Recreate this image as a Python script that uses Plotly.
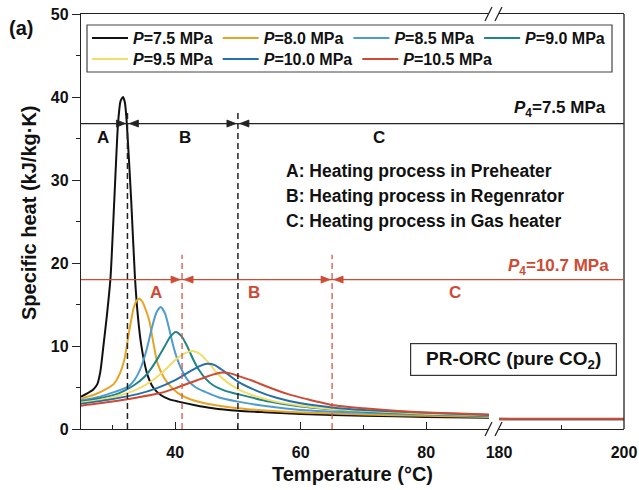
import plotly.graph_objects as go

FONT = "Liberation Sans, Arial, Helvetica, sans-serif"

# ---------------- data ----------------
pressures = ["7.5", "8.0", "8.5", "9.0", "9.5", "10.0", "10.5"]
colors = ["#111111", "#E8A323", "#4E9BD2", "#1F8588", "#F4DC6A", "#2670A9", "#CF4A33"]

T7_5 = [25, 26, 27, 27.6, 28.1, 28.6, 29.1, 29.7, 30.3, 30.9, 31.3, 31.7, 32.0, 32.3, 33.0, 33.6,
        34.1, 34.6, 35.1, 35.6, 36.5, 37.7, 39.0, 40.5, 43, 46, 50, 55, 60, 70, 80, 90]
C7_5 = [3.9, 4.3, 4.8, 5.4, 7.0, 10.2, 13.5, 18.2, 27.5, 36.8, 39.5, 40.0, 39.3, 36.8, 27.5, 18.2,
        13.3, 10.1, 8.0, 6.5, 5.0, 4.1, 3.6, 3.3, 2.9, 2.5, 2.2, 2.0, 1.8, 1.6, 1.45, 1.35]

T8_0 = [25, 27, 29, 30.3, 31.2, 31.9, 32.7, 33.4, 33.9, 34.3, 34.8, 35.3, 35.9, 36.5, 37.2, 38.2,
        39.3, 40.5, 42, 44.7, 47, 50, 55, 60, 70, 80, 90]
C8_0 = [3.7, 4.1, 4.8, 5.5, 6.7, 8.3, 11.9, 14.6, 15.5, 15.7, 15.3, 14.4, 13.0, 10.5, 7.9, 6.2,
        5.1, 4.3, 3.7, 3.1, 2.8, 2.5, 2.2, 2.0, 1.75, 1.6, 1.45]

T8_5 = [25, 28, 30.5, 32.5, 33.6, 34.6, 35.5, 36.2, 37.0, 37.7, 38.4, 39.1, 39.7, 40.4, 41.2, 42,
        43.3, 44.7, 47, 50, 55, 60, 70, 80, 90]
C8_5 = [3.45, 3.9, 4.5, 5.1, 6.0, 7.5, 9.7, 11.9, 14.0, 14.7, 13.9, 11.9, 10.0, 8.3, 6.9, 5.9,
        5.0, 4.5, 3.8, 3.3, 2.7, 2.3, 1.95, 1.75, 1.55]

T9_0 = [25, 28, 31, 33.5, 35, 36.2, 37.3, 38.3, 39.2, 40.1, 41.0, 41.9, 42.8, 43.8, 44.8, 46,
        48, 50, 55, 60, 70, 80, 90]
C9_0 = [3.3, 3.7, 4.3, 5.3, 6.2, 7.3, 8.6, 9.9, 11.1, 11.7, 11.2, 10.0, 8.5, 7.1, 6.1, 5.3,
        4.6, 4.2, 3.3, 2.7, 2.1, 1.8, 1.6]

T9_5 = [25, 28, 31, 34, 36.5, 38.5, 40, 41.5, 42.8, 44, 45.3, 46.5, 48, 50, 53, 56, 60, 65, 70, 80, 90]
C9_5 = [3.2, 3.5, 4.0, 4.8, 5.9, 7.2, 8.3, 9.1, 9.4, 9.0, 8.0, 6.9, 5.8, 4.8, 3.9, 3.3, 2.8, 2.4,
        2.2, 1.85, 1.65]

T10_0 = [25, 30, 34, 37, 40, 42.5, 44, 45.1, 46.3, 47.7, 50, 53, 56, 60, 65, 70, 80, 90]
C10_0 = [3.05, 3.6, 4.2, 4.9, 5.9, 7.0, 7.6, 7.85, 7.7, 7.0, 5.7, 4.6, 3.8, 3.1, 2.6, 2.3, 1.95, 1.7]

T10_5 = [25, 30, 34, 37.5, 40, 42.5, 45, 46.5, 47.6, 48.8, 50, 52, 55, 58, 61, 65, 70, 75, 80, 90]
C10_5 = [2.8, 3.3, 3.8, 4.3, 4.9, 5.6, 6.3, 6.65, 6.8, 6.7, 6.4, 5.9, 5.0, 4.2, 3.6, 2.9, 2.5,
         2.2, 2.0, 1.75]

# high-temperature segment (180-200 C)
T_high = [180, 200]
C_high = [[1.17, 1.16], [1.18, 1.17], [1.19, 1.18], [1.20, 1.19],
          [1.21, 1.20], [1.22, 1.21], [1.23, 1.22]]

low_T = [T7_5, T8_0, T8_5, T9_0, T9_5, T10_0, T10_5]
low_C = [C7_5, C8_0, C8_5, C9_0, C9_5, C10_0, C10_5]

# process boundaries
P4_low_cp, P4_high_cp = 36.8, 18.0
black_bounds = [32.4, 50.0]
red_bounds = [41.1, 65.0]
black_labels = [("A", 28.5), ("B", 41.5), ("C", 72.5)]
red_labels = [("A", 37.0), ("B", 52.6), ("C", 84.6)]

# ---------------- layout geometry helpers ----------------
W, H = 639, 490
ML, MR, MT, MB = 81, 15, 14, 61
PW, PH = W - ML - MR, H - MT - MB


def px(xp):
    return (xp - ML) / PW


def py(yp):
    return (H - MB - yp) / PH


d1_end = px(489)
d2_start = px(499)

fig = go.Figure()
for i, p in enumerate(pressures):
    leg = "legend" if i < 4 else "legend2"
    fig.add_trace(go.Scatter(
        x=low_T[i], y=low_C[i], mode="lines",
        line=dict(color=colors[i], width=2, shape="spline", smoothing=0.6),
        name=f"<i>P</i>=%s MPa" % p, legend=leg, legendgroup=p,
        xaxis="x", yaxis="y"))
for i, p in enumerate(pressures):
    fig.add_trace(go.Scatter(
        x=T_high, y=C_high[i], mode="lines",
        line=dict(color=colors[i], width=2),
        showlegend=False, legendgroup=p, xaxis="x2", yaxis="y"))

axis_col = "#222222"
tickfont = dict(family=FONT, size=16, color="#111111", weight="bold")
xcommon = dict(showline=True, linecolor=axis_col, linewidth=1.3, mirror=True,
               ticks="inside", ticklen=7, tickwidth=1.3, tickcolor=axis_col,
               showgrid=False, zeroline=False, tickfont=tickfont, anchor="y",
               ticklabelstandoff=9, automargin=False)

fig.update_layout(
    template="none",
    width=W, height=H, autosize=False,
    margin=dict(l=ML, r=MR, t=MT, b=MB, pad=0, autoexpand=False),
    paper_bgcolor="white", plot_bgcolor="white",
    font=dict(family=FONT, color="#111111"),
    xaxis=dict(domain=[0, d1_end], range=[25, 90], tickvals=[40, 60, 80],
               minor=dict(tickvals=[30, 50, 70], ticks="inside", ticklen=4,
                          tickwidth=1.3, tickcolor=axis_col), **xcommon),
    xaxis2=dict(domain=[d2_start, 1], range=[180, 200], tickvals=[180, 200],
                minor=dict(tickvals=[190], ticks="inside", ticklen=4,
                           tickwidth=1.3, tickcolor=axis_col), **xcommon),
    yaxis=dict(range=[0, 50], tickvals=[0, 10, 20, 30, 40, 50], showline=True,
               linecolor=axis_col, linewidth=1.3, ticks="outside", ticklen=8,
               tickwidth=1.3, tickcolor=axis_col, automargin=False,
               minor=dict(dtick=5, ticks="outside", ticklen=4, tickwidth=1.3,
                          tickcolor=axis_col),
               showgrid=False, zeroline=False, tickfont=tickfont),
    legend=dict(orientation="h", x=px(87), y=py(21), xanchor="left", yanchor="top",
                bgcolor="rgba(0,0,0,0)", borderwidth=0, itemwidth=36,
                font=dict(family=FONT, size=16, color="#111111", weight="bold")),
    legend2=dict(orientation="h", x=px(87), y=py(42), xanchor="left", yanchor="top",
                 bgcolor="rgba(0,0,0,0)", borderwidth=0, itemwidth=36,
                 font=dict(family=FONT, size=16, color="#111111", weight="bold")),
    showlegend=True,
)

shapes = []
# legend frame
shapes.append(dict(type="rect", xref="paper", yref="paper", x0=px(87), x1=px(612),
                   y0=py(72), y1=py(25), line=dict(color="#444444", width=1.2),
                   layer="below"))
# right border
shapes.append(dict(type="line", xref="paper", yref="paper", x0=1, x1=1, y0=0, y1=1,
                   line=dict(color=axis_col, width=1.3)))
# axis break marks
for yc in (429, 14):
    for xs in (485, 495):
        shapes.append(dict(type="line", xref="paper", yref="paper",
                           x0=px(xs), y0=py(yc + 7), x1=px(xs + 7), y1=py(yc - 7),
                           line=dict(color=axis_col, width=1.2)))
# pressure lines
shapes.append(dict(type="line", xref="paper", yref="y", x0=0, x1=1, y0=P4_low_cp, y1=P4_low_cp,
                   line=dict(color="#222222", width=1.2)))
shapes.append(dict(type="line", xref="paper", yref="y", x0=0, x1=1, y0=P4_high_cp, y1=P4_high_cp,
                   line=dict(color="#CF4A33", width=1.2)))
# boundaries
for xb in black_bounds:
    shapes.append(dict(type="line", xref="x", yref="y", x0=xb, x1=xb, y0=0, y1=38.4,
                       line=dict(color="#222222", width=1.5, dash="6px,4px")))
for xb in red_bounds:
    shapes.append(dict(type="line", xref="x", yref="y", x0=xb, x1=xb, y0=0, y1=21.0,
                       line=dict(color="#D8553E", width=1.3, dash="6px,4px")))


# arrowheads (filled triangles pointing at the boundary from both sides), pixel-sized
def arrowhead(xb, yb, side, color):
    if side < 0:
        path = "M-2,0 L-11,3.5 L-11,-3.5 Z"
    else:
        path = "M2,0 L11,3.5 L11,-3.5 Z"
    return dict(type="path", xref="x", yref="y", xsizemode="pixel", ysizemode="pixel",
                xanchor=xb, yanchor=yb, path=path, fillcolor=color,
                line=dict(color=color, width=0.8))


for xb in black_bounds:
    shapes.append(arrowhead(xb, P4_low_cp, -1, "#222222"))
    shapes.append(arrowhead(xb, P4_low_cp, 1, "#222222"))
for xb in red_bounds:
    shapes.append(arrowhead(xb, P4_high_cp, -1, "#CF4A33"))
    shapes.append(arrowhead(xb, P4_high_cp, 1, "#CF4A33"))

fig.update_layout(shapes=shapes)

ann = []
for t, xv in black_labels:
    ann.append(dict(x=xv, y=35.1, xref="x", yref="y", text=t, showarrow=False,
                    xanchor="center", yanchor="middle",
                    font=dict(family=FONT, size=17, color="#111111", weight="bold")))
for t, xv in red_labels:
    ann.append(dict(x=xv, y=16.5, xref="x", yref="y", text=t, showarrow=False,
                    xanchor="center", yanchor="middle",
                    font=dict(family=FONT, size=17, color="#CF4A33", weight="bold")))

proc = ["A: Heating process in Preheater", "B: Heating process in Regenrator",
        "C: Heating process in Gas heater"]
for k, s in enumerate(proc):
    ann.append(dict(x=57.4, y=31.1 - 3.0 * k, xref="x", yref="y", text=s, showarrow=False,
                    xanchor="left", yanchor="middle",
                    font=dict(family=FONT, size=17.5, color="#111111", weight="bold")))

ann.append(dict(x=px(608), y=38.6, xref="paper", yref="y", xanchor="right", yanchor="middle",
                text="<i>P</i><sub>4</sub>=7.5 MPa", showarrow=False,
                font=dict(family=FONT, size=17, color="#111111", weight="bold")))
ann.append(dict(x=px(611), y=19.5, xref="paper", yref="y", xanchor="right", yanchor="middle",
                text="<i>P</i><sub>4</sub>=10.7 MPa", showarrow=False,
                font=dict(family=FONT, size=17, color="#CF4A33", weight="bold")))

ann.append(dict(x=px(513.5), y=py(359.5), xref="paper", yref="paper",
                xanchor="center", yanchor="middle",
                text="PR-ORC (pure CO<sub>2</sub>)", showarrow=False,
                width=203, height=29, bgcolor="white", bordercolor="#333333",
                borderwidth=1.2, borderpad=1,
                font=dict(family=FONT, size=19, color="#111111", weight="bold")))

ann.append(dict(x=0.5, y=py(474), xref="paper", yref="paper", text="Temperature (°C)",
                xanchor="center", yanchor="middle",
                showarrow=False, font=dict(family=FONT, size=20, color="#111111", weight="bold")))
ann.append(dict(x=px(29), y=py(213), xref="paper", yref="paper", text="Specific heat (kJ/kg·K)",
                xanchor="center", yanchor="middle",
                textangle=-90, showarrow=False,
                font=dict(family=FONT, size=20, color="#111111", weight="bold")))
ann.append(dict(x=px(21), y=py(28), xref="paper", yref="paper", text="(a)", showarrow=False,
                xanchor="center", yanchor="middle",
                font=dict(family=FONT, size=20, color="#111111", weight="bold")))

fig.update_layout(annotations=ann)

fig.write_html("out.html")
